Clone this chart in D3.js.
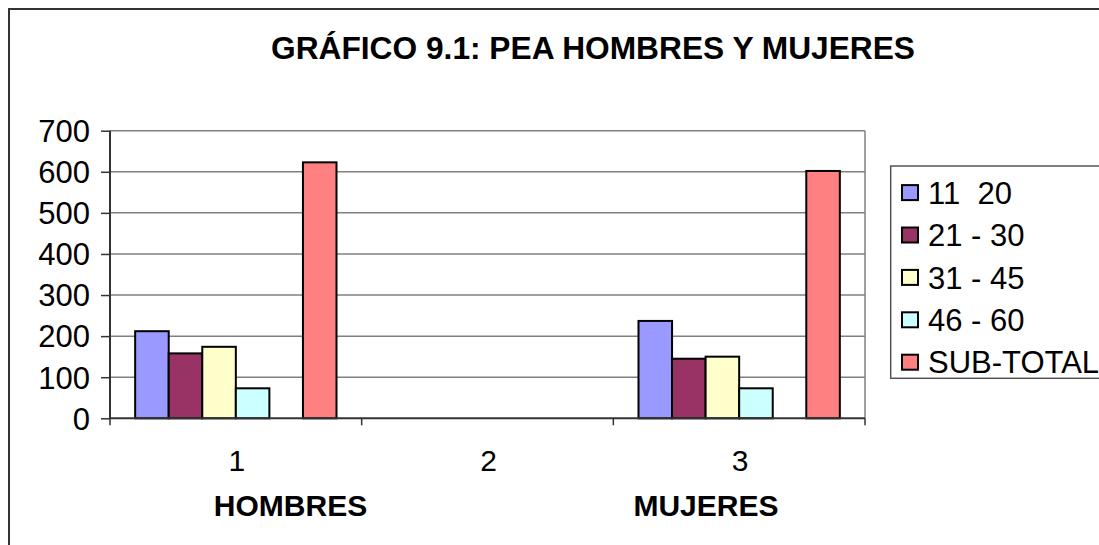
<!DOCTYPE html>
<html>
<head>
<meta charset="utf-8">
<script src="https://cdn.jsdelivr.net/npm/d3@7"></script>
<style>
  html, body { margin: 0; padding: 0; background: #fff; }
  svg { display: block; }
  text { font-family: "Liberation Sans", Arial, sans-serif; fill: #000; }
</style>
</head>
<body>
<svg id="chart" width="1099" height="545"></svg>
<script>
// ---- data ----
const title = "GRÁFICO 9.1: PEA HOMBRES Y MUJERES";
const categories = ["1", "2", "3"];
const groupLabels = ["HOMBRES", "MUJERES"];
const seriesNames = ["11  20", "21 - 30", "31 - 45", "46 - 60", "", "SUB-TOTAL"];
const s11_20   = [212, null, 237];
const s21_30   = [158, null, 145];
const s31_45   = [174, null, 150];
const s46_60   = [73,  null, 73];
const sBlank   = [null, null, null];
const sSubTot  = [623, null, 602];
const yTicks = [0, 100, 200, 300, 400, 500, 600, 700];
const seriesColors = ["#9999FF", "#993366", "#FFFFCC", "#CCFFFF", "none", "#FF8080"];

const seriesValues = [s11_20, s21_30, s31_45, s46_60, sBlank, sSubTot];
const series = seriesNames.map((name, i) => ({ name, values: seriesValues[i], color: seriesColors[i] }));

// ---- layout ----
const svg = d3.select("#chart");
const plot = { left: 110, right: 865, top: 130.7, bottom: 418.3 };
const FS = 31;

// outer chart border (top + left only visible)
svg.append("path")
  .attr("d", `M9,1100 L9,9 L1100,9`)
  .attr("fill", "none").attr("stroke", "#333").attr("stroke-width", 2);

// title
svg.append("text")
  .attr("x", 593).attr("y", 58.5)
  .attr("text-anchor", "middle")
  .attr("font-size", 30.5).attr("font-weight", "bold")
  .attr("textLength", 644).attr("lengthAdjust", "spacingAndGlyphs")
  .text(title);

const x = d3.scaleBand().domain(categories).range([plot.left, plot.right]).paddingInner(0).paddingOuter(0);
const xs = d3.scaleBand().domain(d3.range(seriesNames.length)).range([0, x.bandwidth()]).paddingInner(0).paddingOuter(0.75);
const y = d3.scaleLinear().domain([0, 700]).range([plot.bottom, plot.top]);

// gridlines
svg.append("g").selectAll("line").data(yTicks.filter(t => t > 0)).join("line")
  .attr("x1", plot.left).attr("x2", plot.right)
  .attr("y1", d => y(d)).attr("y2", d => y(d))
  .attr("stroke", "#808080").attr("stroke-width", 1.5);

// right plot border
svg.append("line")
  .attr("x1", plot.right).attr("x2", plot.right)
  .attr("y1", plot.top).attr("y2", plot.bottom)
  .attr("stroke", "#808080").attr("stroke-width", 1.5);

// bars
const gBars = svg.append("g");
series.forEach((s, si) => {
  if (!s.name) return;
  gBars.selectAll(null)
    .data(categories.map((c, ci) => ({ c, v: s.values[ci] })).filter(d => d.v != null))
    .join("rect")
    .attr("x", d => x(d.c) + xs(si))
    .attr("y", d => y(d.v))
    .attr("width", xs.bandwidth())
    .attr("height", d => y(0) - y(d.v))
    .attr("fill", s.color)
    .attr("stroke", "#000").attr("stroke-width", 2);
});

// y axis
const yAxis = d3.axisLeft(y).tickValues(yTicks).tickSize(9).tickPadding(10).tickFormat(d3.format("d"));
const gy = svg.append("g").attr("transform", `translate(${plot.left},0)`).call(yAxis);
gy.select(".domain").attr("stroke", "#333").attr("stroke-width", 2).attr("d", `M0,${plot.top}V${plot.bottom}`);
gy.selectAll(".tick line").attr("stroke", "#333").attr("stroke-width", 1.5);
gy.selectAll(".tick text").attr("font-size", FS).attr("font-family", "Liberation Sans, Arial, sans-serif").attr("fill", "#000").attr("dy", "0.35em").attr("x", -20);

// x axis: domain line + boundary ticks
const gx = svg.append("g");
gx.append("line")
  .attr("x1", plot.left).attr("x2", plot.right)
  .attr("y1", plot.bottom).attr("y2", plot.bottom)
  .attr("stroke", "#333").attr("stroke-width", 2);
const boundaries = categories.map(c => x(c)).concat([x(categories[categories.length - 1]) + x.bandwidth()]);
gx.selectAll(".bt").data(boundaries).join("line")
  .attr("x1", d => d).attr("x2", d => d)
  .attr("y1", plot.bottom).attr("y2", plot.bottom + 7)
  .attr("stroke", "#333").attr("stroke-width", 1.5);
gx.selectAll(".xl").data(categories).join("text")
  .attr("x", d => x(d) + x.bandwidth() / 2 + 1)
  .attr("y", 471)
  .attr("text-anchor", "middle")
  .attr("font-size", 30)
  .text(d => d);

// group labels (axis title)
const groupX = [290.5, 706];
svg.selectAll(".gl").data(groupLabels).join("text")
  .attr("x", (d, i) => groupX[i]).attr("y", 516)
  .attr("text-anchor", "middle")
  .attr("font-size", 30).attr("font-weight", "bold")
  .text(d => d);

// legend
const legendItems = series.filter(s => s.name);
const lg = svg.append("g");
lg.append("rect")
  .attr("x", 890.7).attr("y", 166)
  .attr("width", 260).attr("height", 378.3 - 166)
  .attr("fill", "#fff").attr("stroke", "#555").attr("stroke-width", 1.5);
const li = lg.selectAll(".li").data(legendItems).join("g")
  .attr("transform", (d, i) => `translate(0,${192.6 + i * 42.4})`);
li.append("rect")
  .attr("x", 902).attr("y", -7.5)
  .attr("width", 16).attr("height", 15)
  .attr("fill", d => d.color).attr("stroke", "#000").attr("stroke-width", 2);
li.append("text")
  .attr("x", 928).attr("y", 0).attr("dy", "0.36em")
  .attr("font-size", FS)
  .style("white-space", "pre")
  .text(d => d.name);
</script>
</body>
</html>
